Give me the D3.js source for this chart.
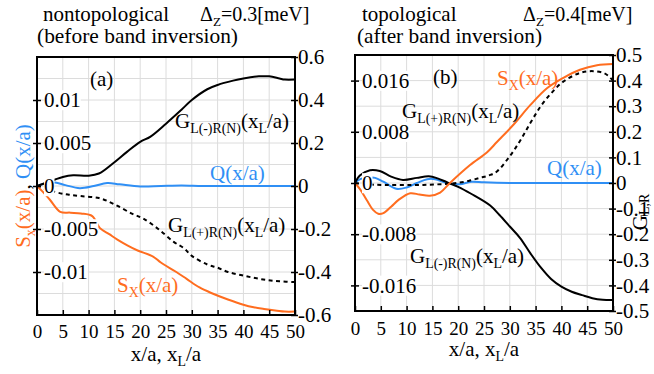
<!DOCTYPE html>
<html>
<head>
<meta charset="utf-8">
<script src="https://cdn.jsdelivr.net/npm/d3@7"></script>
<style>
  body { margin: 0; background: #fff; }
  svg { display: block; }
</style>
</head>
<body>
<div id="container"></div>
<script>
// ---- panel (a): nontopological ----
const gMinusA_x = [0, 3.5, 5, 7, 10, 12, 14.7, 17.5, 20, 22, 25, 28, 30, 33, 35, 38, 40, 43, 45, 47, 48, 50];
const gMinusA_y = [0, 0.03, 0.042, 0.05, 0.048, 0.058, 0.105, 0.16, 0.205, 0.23, 0.29, 0.355, 0.40, 0.45, 0.47, 0.49, 0.50, 0.51, 0.51, 0.50, 0.495, 0.495];
const gPlusA_x = [0, 3.5, 6, 8.5, 12, 15, 18.5, 20.5, 23.5, 26.5, 28.5, 30, 33, 35, 37, 39.5, 42, 44.5, 47, 50];
const gPlusA_y = [0, -0.028, -0.04, -0.047, -0.056, -0.085, -0.13, -0.15, -0.2, -0.26, -0.29, -0.325, -0.365, -0.38, -0.4, -0.414, -0.427, -0.437, -0.443, -0.447];
const sxA_x = [0, 1, 2.5, 4.5, 6.5, 8.5, 10.7, 12.2, 14, 15.5, 17.5, 19.5, 22.5, 24, 27, 29, 31.5, 34, 37, 40, 42, 44, 46.5, 48, 50];
const sxA_y = [0, -0.0006, -0.0016, -0.003, -0.0031, -0.0032, -0.0035, -0.0049, -0.0056, -0.0062, -0.0069, -0.0075, -0.0082, -0.0089, -0.01, -0.0108, -0.0118, -0.0125, -0.0132, -0.0138, -0.0141, -0.0143, -0.0145, -0.0146, -0.0146];
const qA_x = [0, 1.5, 3.5, 5.5, 8.3, 11, 13.6, 16, 20, 24, 28, 32, 36, 40, 45, 50];
const qA_y = [0, 0.0003, 0.0004, 0.0001, -0.00025, 0, 0.00035, 0.0002, -0.00005, 0, 0.00005, 0, 0, 0, 0, 0];

// ---- panel (b): topological ----
const gMinusB_x = [0, 1, 2.9, 4.8, 7, 9.3, 12, 14.3, 16, 17.8, 20, 22.5, 26.2, 28, 30, 32, 34, 36, 38, 40, 42, 44, 46, 48, 50];
const gMinusB_y = [0, 0.03, 0.05, 0.047, 0.025, 0.012, 0.02, 0.026, 0.018, 0.003, -0.015, -0.042, -0.088, -0.125, -0.17, -0.215, -0.275, -0.33, -0.375, -0.405, -0.425, -0.438, -0.45, -0.456, -0.457];
const gPlusB_x = [0, 3, 6, 10, 14, 18, 19.7, 22, 24.2, 26, 27.5, 30, 32, 34, 36, 38, 40.3, 43.6, 46.1, 48.1, 49, 50];
const gPlusB_y = [0, -0.006, -0.008, -0.008, -0.007, -0.003, 0, 0.008, 0.02, 0.03, 0.045, 0.105, 0.165, 0.235, 0.30, 0.35, 0.395, 0.43, 0.437, 0.43, 0.42, 0.40];
const sxB_x = [0, 1, 2.3, 3.5, 4.5, 5.5, 7, 8.5, 10.7, 12.5, 14.5, 16.5, 18.4, 22.3, 25.6, 27.5, 30.7, 34, 37.2, 40.3, 43.6, 46.9, 50];
const sxB_y = [0, -0.001, -0.0027, -0.0042, -0.0048, -0.0047, -0.0037, -0.0026, -0.0016, -0.0018, -0.002, -0.0015, 0, 0.0028, 0.0048, 0.0064, 0.0091, 0.0122, 0.0148, 0.0164, 0.0177, 0.0184, 0.0186];
const qB_x = [0, 1, 2.5, 3.9, 5.5, 8, 10, 12, 14, 15.5, 17.8, 20.3, 22.5, 25, 30, 35, 40, 45, 50];
const qB_y = [0, 0.0006, 0.0009, 0.0008, 0.0002, -0.0009, -0.0007, 0, 0.0006, 0.0006, 0, -0.0002, 0.0002, 0.0001, 0, 0, 0, 0, 0];

// ticks
const xTicks = [0, 5, 10, 15, 20, 25, 30, 35, 40, 45, 50];
const leftTicksA = [-0.01, -0.005, 0, 0.005, 0.01];
const rightTicksA = [-0.6, -0.4, -0.2, 0, 0.2, 0.4, 0.6];
const gridA = [-0.5, -0.4, -0.3, -0.2, -0.1, 0, 0.1, 0.2, 0.3, 0.4, 0.5];
const leftTicksB = [-0.016, -0.008, 0, 0.008, 0.016];
const rightTicksB = [-0.5, -0.4, -0.3, -0.2, -0.1, 0, 0.1, 0.2, 0.3, 0.4, 0.5];
const gridB = [-0.4, -0.3, -0.2, -0.1, 0, 0.1, 0.2, 0.3, 0.4];

const width = 654;
const height = 374;
const orange = "#ff6d1f";
const blue = "#2f8ff5";

// find a serif face that is really installed
function pickFont(cands) {
  const ctx = document.createElement("canvas").getContext("2d");
  const s = "nontopological (before band inversion) 0.016";
  const widthOf = f => { ctx.font = "40px " + f; return ctx.measureText(s).width; };
  const mono = widthOf("monospace");
  for (const c of cands) {
    if (Math.abs(widthOf(`"${c}", monospace`) - mono) > 1) return `"${c}"`;
  }
  return "serif";
}
const serif = pickFont(["Liberation Serif", "Times New Roman", "Tinos", "Nimbus Roman", "FreeSerif",
                        "DejaVu Serif", "Noto Serif", "Liberation Sans", "Arimo"]);

const svg = d3.select("#container").append("svg")
    .attr("width", width)
    .attr("height", height)
    .attr("viewBox", [0, 0, width, height])
    .style("font-family", serif);

// text with subscripts: parts = [[string, isSub], ...]
function richText(parent, x, y, parts, size, color, anchor) {
  const t = parent.append("text")
      .attr("x", x).attr("y", y)
      .style("font-family", serif)
      .attr("font-size", size)
      .attr("fill", color || "#000")
      .attr("text-anchor", anchor || "start");
  let sub = false;
  parts.forEach(([s, isSub]) => {
    const sp = t.append("tspan").text(s);
    if (isSub && !sub) sp.attr("dy", size * 0.25);
    if (!isSub && sub) sp.attr("dy", -size * 0.25);
    if (isSub) sp.attr("font-size", size * 0.66);
    sub = isSub;
  });
  return t;
}

// squeeze a text to the width it has in the reference
function fitWidth(t, w) {
  const n = t.node().getComputedTextLength();
  if (Math.abs(n - w) > 3) t.attr("textLength", w).attr("lengthAdjust", "spacingAndGlyphs");
  return t;
}

function whiteBehind(axisG) {
  axisG.selectAll(".tick").each(function () {
    const tick = d3.select(this);
    const b = tick.select("text").node().getBBox();
    tick.insert("rect", "text")
        .attr("x", b.x).attr("y", b.y + 2)
        .attr("width", b.width).attr("height", b.height - 4)
        .attr("fill", "#fff");
  });
}

function drawPanel(p) {
  const x = d3.scaleLinear().domain([0, 50]).range([p.left, p.right]);
  const yG = d3.scaleLinear().domain(p.gDomain).range([p.bottom, p.top]);
  const yS = d3.scaleLinear().domain(p.sDomain).range([p.bottom, p.top]);
  const g = svg.append("g");

  // grid
  g.append("g").attr("stroke", "#dcdcdc").attr("stroke-width", 1)
    .selectAll("line").data(xTicks.slice(1, -1)).join("line")
      .attr("x1", d => x(d)).attr("x2", d => x(d))
      .attr("y1", p.top).attr("y2", p.bottom);
  g.append("g").attr("stroke", "#dcdcdc").attr("stroke-width", 1)
    .selectAll("line").data(p.grid).join("line")
      .attr("x1", p.left).attr("x2", p.right)
      .attr("y1", d => yG(d)).attr("y2", d => yG(d));

  // curves
  const path = (xs, ys, yScale) => d3.line()
      .x(i => x(xs[i])).y(i => yScale(ys[i]))
      .curve(d3.curveCatmullRom.alpha(0.5))(d3.range(xs.length));
  const curves = [
    {xs: p.q[0], ys: p.q[1], y: yS, c: blue, dash: null},
    {xs: p.gPlus[0], ys: p.gPlus[1], y: yG, c: "#000", dash: "4,3.5"},
    {xs: p.gMinus[0], ys: p.gMinus[1], y: yG, c: "#000", dash: null},
    {xs: p.sx[0], ys: p.sx[1], y: yS, c: orange, dash: null}
  ];
  g.append("g").attr("fill", "none").attr("stroke-width", 2)
    .selectAll("path").data(curves).join("path")
      .attr("d", d => path(d.xs, d.ys, d.y))
      .attr("stroke", d => d.c)
      .attr("stroke-dasharray", d => d.dash);

  const styleAxis = (a, size) => {
    a.select(".domain").remove();
    a.attr("font-family", null).attr("font-size", size);
    a.selectAll(".tick text").style("font-family", serif).attr("fill", "#000");
    a.selectAll(".tick line").attr("stroke-width", 1.5);
  };

  // left axis (labels inside the box)
  const la = g.append("g").attr("transform", `translate(${p.left},0)`)
      .call(d3.axisRight(yS).tickValues(p.leftTicks).tickSize(4).tickPadding(3).tickFormat(d => String(d)));
  styleAxis(la, 21);
  la.selectAll(".tick line").attr("x1", -4);
  whiteBehind(la);

  // right axis
  const ra = g.append("g").attr("transform", `translate(${p.right},0)`)
      .call(d3.axisRight(yG).tickValues(p.rightTicks).tickSize(3).tickPadding(0).tickFormat(d => String(d)));
  styleAxis(ra, 21);
  ra.selectAll(".tick line").attr("x1", -4);

  // bottom axis
  const ba = g.append("g").attr("transform", `translate(0,${p.bottom})`)
      .call(d3.axisBottom(x).tickValues(xTicks).tickSize(-5).tickPadding(p.xPad));
  styleAxis(ba, 19);

  // box
  g.append("rect")
      .attr("x", p.left).attr("y", p.top)
      .attr("width", p.right - p.left).attr("height", p.bottom - p.top)
      .attr("fill", "none").attr("stroke", "#000").attr("stroke-width", 2);

  // x axis title
  richText(g, (p.left + p.right) / 2, p.xTitleY,
      [["x/a, x", false], ["L", true], ["/a", false]], 21, "#000", "middle");

  // titles
  fitWidth(richText(g, p.title1[0], p.title1[1], [[p.title1[2], false]], 21), p.title1[3]);
  fitWidth(richText(g, p.title2[0], p.title2[1], [[p.title2[2], false]], 21), p.title2[3]);
  richText(g, p.dz[0], p.dz[1], [["\u0394", false], ["Z", true], [p.dz[2], false]], 20);
  richText(g, p.tag[0], p.tag[1], [[p.tag[2], false]], 21);

  // curve labels
  const gLab = (pos, sign) => richText(g, pos[0], pos[1],
      [["G", false], ["L(" + sign + ")R(N)", true], ["(x", false], ["L", true], ["/a)", false]], 21);
  gLab(p.gMinusLab, "-");
  gLab(p.gPlusLab, "+");
  richText(g, p.qLab[0], p.qLab[1], [["Q(x/a)", false]], 21, blue);
  richText(g, p.sxLab[0], p.sxLab[1], [["S", false], ["X", true], ["(x/a)", false]], 21, orange);
}

drawPanel({
  left: 37, right: 295, top: 57, bottom: 315,
  gDomain: [-0.6, 0.6], sDomain: [-0.015, 0.015],
  grid: gridA, leftTicks: leftTicksA, rightTicks: rightTicksA,
  xPad: 10, xTitleY: 361,
  gMinus: [gMinusA_x, gMinusA_y], gPlus: [gPlusA_x, gPlusA_y],
  sx: [sxA_x, sxA_y], q: [qA_x, qA_y],
  title1: [43, 21, "nontopological", 127], title2: [37, 43, "(before band inversion)", 201],
  dz: [200, 21, "=0.3[meV]"], tag: [90, 86, "(a)"],
  gMinusLab: [175, 128], gPlusLab: [168, 232], qLab: [210, 180], sxLab: [117, 292]
});

drawPanel({
  left: 355, right: 613, top: 55, bottom: 311,
  gDomain: [-0.5, 0.5], sDomain: [-0.02, 0.02],
  grid: gridB, leftTicks: leftTicksB, rightTicks: rightTicksB,
  xPad: 11, xTitleY: 356,
  gMinus: [gMinusB_x, gMinusB_y], gPlus: [gPlusB_x, gPlusB_y],
  sx: [sxB_x, sxB_y], q: [qB_x, qB_y],
  title1: [362, 21, "topological", 95], title2: [357, 43, "(after band inversion)", 185],
  dz: [523, 21, "=0.4[meV]"], tag: [433, 84, "(b)"],
  gMinusLab: [410, 263], gPlusLab: [402, 118], qLab: [547, 175], sxLab: [497, 85]
});

// y axis titles
const yl = svg.append("text")
    .attr("transform", "translate(30,186) rotate(-90)")
    .style("font-family", serif)
    .attr("text-anchor", "middle").attr("font-size", 21);
yl.append("tspan").attr("fill", orange).text("S");
yl.append("tspan").attr("fill", orange).attr("font-size", 14).attr("dy", 5).text("x");
yl.append("tspan").attr("fill", orange).attr("dy", -5).text("(x/a)");
yl.append("tspan").attr("fill", "#000").text(", ");
yl.append("tspan").attr("fill", blue).text("Q(x/a)");

const yr = svg.append("text")
    .attr("transform", "translate(647,212) rotate(-90)")
    .style("font-family", serif)
    .attr("text-anchor", "middle").attr("font-size", 21);
yr.append("tspan").text("G");
yr.append("tspan").attr("font-size", 14).attr("dy", 2).text("L,R");
</script>
</body>
</html>
